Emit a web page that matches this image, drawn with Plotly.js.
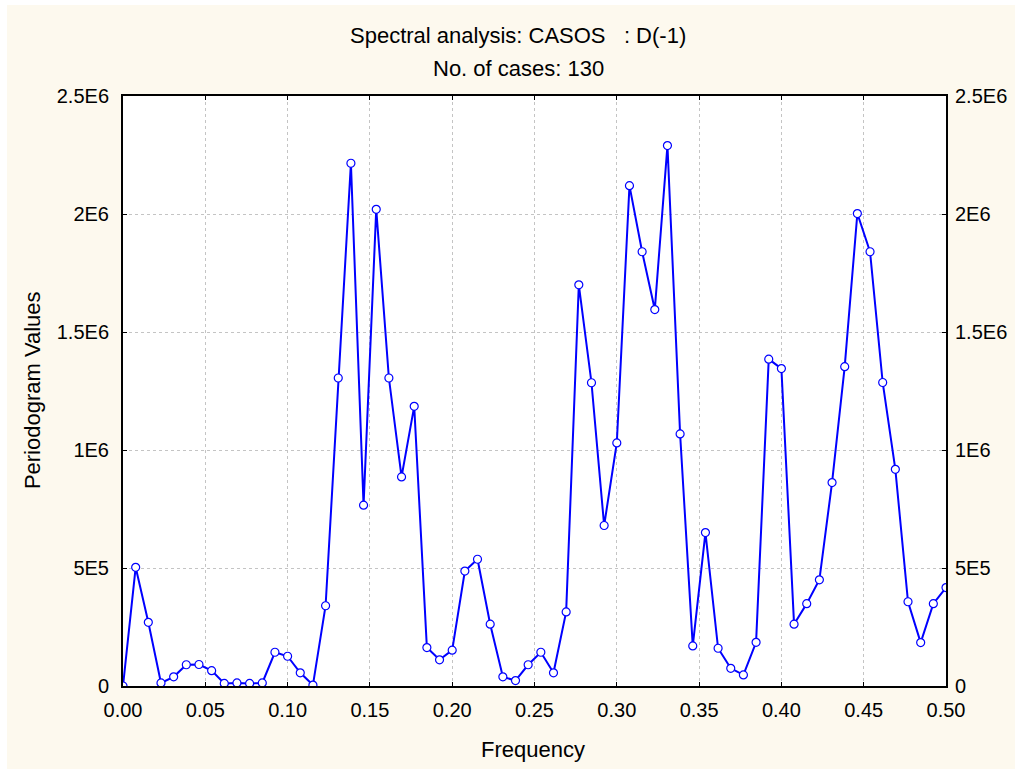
<!DOCTYPE html>
<html>
<head>
<meta charset="utf-8">
<script src="https://cdn.plot.ly/plotly-3.0.1.min.js"></script>
<style>
html,body{margin:0;padding:0;background:#ffffff;overflow:hidden;}
#chart{position:absolute;left:7px;top:5px;width:1008px;height:764px;}
</style>
</head>
<body>
<div id="chart"></div>
<script>
// Frequencies (k / 130 cases)
const frequency = [
  0, 0.00769, 0.01538, 0.02308, 0.03077, 0.03846, 0.04615, 0.05385, 0.06154, 0.06923,
  0.07692, 0.08462, 0.09231, 0.1, 0.10769, 0.11538, 0.12308, 0.13077, 0.13846, 0.14615,
  0.15385, 0.16154, 0.16923, 0.17692, 0.18462, 0.19231, 0.2, 0.20769, 0.21538, 0.22308,
  0.23077, 0.23846, 0.24615, 0.25385, 0.26154, 0.26923, 0.27692, 0.28462, 0.29231, 0.3,
  0.30769, 0.31538, 0.32308, 0.33077, 0.33846, 0.34615, 0.35385, 0.36154, 0.36923, 0.37692,
  0.38462, 0.39231, 0.4, 0.40769, 0.41538, 0.42308, 0.43077, 0.43846, 0.44615, 0.45385,
  0.46154, 0.46923, 0.47692, 0.48462, 0.49231, 0.5
];
// Periodogram values
const periodogram = [
  0, 503000, 270000, 13000, 39000, 90000, 91000, 65000, 11000, 13000,
  11000, 13000, 143000, 126000, 56000, 4000, 340000, 1305000, 2215000, 766000,
  2020000, 1305000, 886000, 1185000, 163000, 111000, 152000, 487000, 537000, 262000,
  39000, 23000, 90000, 143000, 56000, 314000, 1700000, 1285000, 680000, 1030000,
  2120000, 1840000, 1595000, 2290000, 1068000, 170000, 650000, 160000, 75000, 47000,
  185000, 1385000, 1345000, 262000, 349000, 450000, 862000, 1353000, 2002000, 1840000,
  1286000, 918000, 357000, 184000, 349000, 417000
];
const xTickValues = [0, 0.05, 0.1, 0.15, 0.2, 0.25, 0.3, 0.35, 0.4, 0.45, 0.5];
const xTickLabels = ['0.00', '0.05', '0.10', '0.15', '0.20', '0.25', '0.30', '0.35', '0.40', '0.45', '0.50'];
const yTickValues = [0, 500000, 1000000, 1500000, 2000000, 2500000];
const yTickLabels = ['0', '5E5', '1E6', '1.5E6', '2E6', '2.5E6'];
const titleLine1 = 'Spectral analysis: CASOS\u00a0\u00a0\u00a0: D(-1)';
const titleLine2 = 'No. of cases: 130';
const xTitle = 'Frequency';
const yTitle = 'Periodogram Values';

const FONT = 'Liberation Sans, Arial, Helvetica, sans-serif';
const cream = '#fdf9ee';

const traces = [
  {
    x: frequency, y: periodogram, type: 'scatter', mode: 'lines+markers',
    line: {color: '#0000ff', width: 2},
    marker: {symbol: 'circle', size: 8, color: '#ffffff', line: {color: '#0000ff', width: 1.2}},
    cliponaxis: true, hoverinfo: 'skip', showlegend: false
  },
  {
    x: frequency, y: periodogram, type: 'scatter', mode: 'lines', yaxis: 'y2',
    line: {color: 'rgba(0,0,0,0)', width: 0}, opacity: 0, hoverinfo: 'skip', showlegend: false
  }
];

const axisCommon = {
  showline: true, linecolor: '#000000', linewidth: 2,
  ticks: 'inside', ticklen: 4, tickwidth: 1, tickcolor: '#000000',
  showgrid: true, gridcolor: '#c4c4c4', gridwidth: 1, griddash: '3px,3px',
  zeroline: false, tickfont: {family: FONT, size: 20, color: '#000000'}
};

const layout = {
  width: 1008, height: 764,
  paper_bgcolor: cream, plot_bgcolor: '#ffffff',
  margin: {l: 116, r: 69, t: 91, b: 83, pad: 0},
  showlegend: false,
  font: {family: FONT, size: 20, color: '#000000'},
  xaxis: Object.assign({}, axisCommon, {
    range: [0, 0.5], tickvals: xTickValues, ticktext: xTickLabels, mirror: 'ticks',
    ticklabelstandoff: 5
  }),
  yaxis: Object.assign({}, axisCommon, {
    range: [0, 2500000], tickvals: yTickValues, ticktext: yTickLabels, mirror: true,
    ticklabelstandoff: 8
  }),
  yaxis2: Object.assign({}, axisCommon, {
    range: [0, 2500000], tickvals: yTickValues, ticktext: yTickLabels,
    overlaying: 'y', side: 'right', showgrid: false, showline: false,
    ticklabelstandoff: 8
  }),
  annotations: [
    {text: titleLine1, xref: 'paper', yref: 'paper', x: 0.48, y: 1.103, xanchor: 'center', yanchor: 'middle',
     showarrow: false, font: {family: FONT, size: 22, color: '#000000'}},
    {text: titleLine2, xref: 'paper', yref: 'paper', x: 0.48, y: 1.046, xanchor: 'center', yanchor: 'middle',
     showarrow: false, font: {family: FONT, size: 22, color: '#000000'}},
    {text: xTitle, xref: 'paper', yref: 'paper', x: 0.498, y: -0.108, xanchor: 'center', yanchor: 'middle',
     showarrow: false, font: {family: FONT, size: 22, color: '#000000'}},
    {text: yTitle, xref: 'paper', yref: 'paper', x: -0.109, y: 0.502, xanchor: 'center', yanchor: 'middle',
     textangle: -90, showarrow: false, font: {family: FONT, size: 22, color: '#000000'}}
  ]
};

Plotly.newPlot('chart', traces, layout, {staticPlot: true, displayModeBar: false});
</script>
</body>
</html>
